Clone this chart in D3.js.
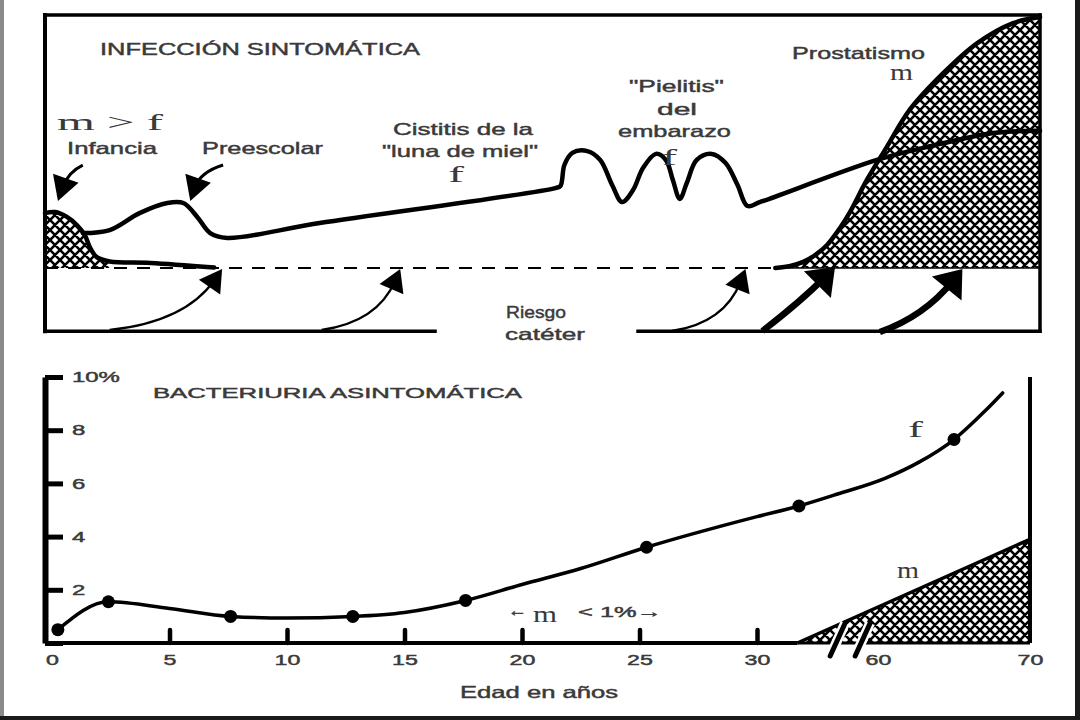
<!DOCTYPE html>
<html><head><meta charset="utf-8">
<script src="https://cdn.jsdelivr.net/npm/d3@7"></script>
<style>body{margin:0;background:#fff}svg{display:block}</style>
</head><body>
<svg id="c" width="1080" height="720"></svg>
<script>
// ================= DATA =================
// Top panel (schematic): [position 0-100 along the age span, level 0-100 above dashed baseline]
const sintomaticaF = [[3.8,13.8],[6.5,15.0],[9.5,21.7],[12.3,25.7],[13.9,25.7],[15.3,20.2],[16.6,13.8],[18.3,11.9],
  [27.6,17.8],[51.3,31.6],[51.8,32.4],[52.2,40.7],[53.0,45.5],[54.5,46.2],[55.8,42.7],[57.0,32.8],[58.0,26.1],
  [59.1,30.8],[60.1,39.5],[61.4,45.1],[62.4,42.7],[63.1,34.8],[63.8,27.3],[64.5,33.6],[65.5,42.7],[67.0,45.1],
  [68.4,41.5],[69.6,32.8],[70.6,24.5],[71.9,26.1],[83.6,42.7],[88.6,47.8],[95.3,53.4],[100,54.2]];
const prostatismoM = [[73.4,0],[74.9,0.8],[76.2,2.4],[77.4,5.1],[78.6,9.1],[79.9,15.8],[80.9,22.1],[82.6,34.8],
  [84.6,47.8],[86.9,62.5],[90.3,77.1],[93.7,88.9],[97.3,96.8],[100,99.2]];
const infanciaM = [[0,21.7],[1.0,22.1],[2.2,20.2],[3.2,17.0],[4.0,13.0],[4.5,8.3],[5.2,4.3],[6.5,2.6],[10.6,2.0],[17.0,0.2]];
const cateterArrows = [
  {from:[6.5,-24.5], via:[14.1,-21.3], to:[17.8,-0.4], heavy:false},
  {from:[27.8,-24.5], via:[33.4,-21.3], to:[35.7,-0.4], heavy:false},
  {from:[63.0,-24.9], via:[68.3,-21.7], to:[70.4,-0.4], heavy:false},
  {from:[72.1,-24.9], via:[75.9,-13.4], to:[79.4,0.4], heavy:true},
  {from:[83.9,-25.3], via:[88.4,-19.0], to:[92.2,-0.4], heavy:true}];
const pointerArrows = [
  {from:[3.8,40.7], via:[2.3,37.9], to:[1.3,26.5]},
  {from:[17.9,40.7], via:[15.6,37.9], to:[14.6,26.5]}];
const frameBottomSegments = [[0,39.2],[59.6,100]];

// Bottom panel: age (years) vs asymptomatic bacteriuria (%)
const xTickValues = [0,5,10,15,20,25,30,60,70];
const xTickMarks = [5,10,15,20,25,30];
const yTickValues = [0,2,4,6,8,10];
const bacteriuriaF = [[0.25,0.5],[2.4,1.55],[5,1.3],[7.6,1.0],[10,0.94],[12.8,1.0],[15,1.15],[17.6,1.6],
  [20,2.2],[22.5,2.8],[25.3,3.6],[30,4.75],[40.4,5.15],[50,5.6],[60.5,6.2],[62.7,6.8],[65,7.65],[67,8.7],[68.2,9.4]];
const bacteriuriaFDots = [[0.25,0.5],[2.4,1.55],[7.6,1.0],[12.8,1.0],[17.6,1.6],[25.3,3.6],[40.4,5.15],[65,7.65]];
const bacteriuriaM = [[40,0],[70,3.9]];
const axisBreakAges = [50,56.2];

// ================= LAYOUT =================
const svg = d3.select('#c');
const SANS = 'Liberation Sans, Arial, sans-serif', SERIF = 'Liberation Serif, Times New Roman, serif';
const TXT = '#3a3a3a';
const xT = d3.scaleLinear().domain([0,100]).range([45,1040]);
const yT = d3.scaleLinear().domain([0,100]).range([268,15]);
const xB = d3.scaleLinear().domain([0,30,60,70]).range([52,757,878,1030]);
const yB = d3.scaleLinear().domain([0,10]).range([643,377]);
const AX_LEFT = 45;

// outer border
svg.append('rect').attr('x',0).attr('y',0).attr('width',4).attr('height',720).attr('fill','#8a8a8a');
svg.append('rect').attr('x',1075).attr('y',0).attr('width',5).attr('height',720).attr('fill','#1a1a1a');
svg.append('rect').attr('x',0).attr('y',716).attr('width',1080).attr('height',4).attr('fill','#1a1a1a');

// hatch pattern
const defs = svg.append('defs');
const S = 10;
const pat = defs.append('pattern').attr('id','hatch').attr('patternUnits','userSpaceOnUse').attr('width',S).attr('height',S);
pat.append('rect').attr('width',S).attr('height',S).attr('fill','#fff');
pat.append('path').attr('d',`M-1,1L1,-1M0,${S}L${S},0M${S-1},${S+1}L${S+1},${S-1}M-1,${S-1}L1,${S+1}M0,0L${S},${S}M${S-1},-1L${S+1},1`)
  .attr('stroke','#000').attr('stroke-width',2.6);

// ---------- TOP PANEL ----------
const topG = svg.append('g');
const cr = d3.curveCatmullRom.alpha(0.5);
const lineT = d3.line().x(d=>xT(d[0])).y(d=>yT(d[1])).curve(cr);
const areaT = d3.area().x(d=>xT(d[0])).y0(yT(0)).y1(d=>yT(d[1])).curve(cr);

topG.append('path').attr('d',areaT(prostatismoM)).attr('fill','url(#hatch)');
topG.append('path').attr('d',areaT(infanciaM.slice(0,8))).attr('fill','url(#hatch)');

// frame
const fr = topG.append('g').attr('stroke','#000').attr('stroke-linecap','square');
fr.append('line').attr('x1',xT(0)).attr('x2',xT(100)).attr('y1',yT(100)).attr('y2',yT(100)).attr('stroke-width',3.5);
fr.append('line').attr('x1',xT(0)).attr('x2',xT(0)).attr('y1',yT(100)).attr('y2',yT(-25)).attr('stroke-width',4);
fr.append('line').attr('x1',xT(100)).attr('x2',xT(100)).attr('y1',yT(100)).attr('y2',yT(-25)).attr('stroke-width',3.5);
frameBottomSegments.forEach(s=>fr.append('line').attr('x1',xT(s[0])).attr('x2',xT(s[1]))
  .attr('y1',yT(-25)).attr('y2',yT(-25)).attr('stroke-width',3.5));

// dashed baseline
topG.append('line').attr('x1',xT(0)).attr('x2',xT(prostatismoM[0][0])).attr('y1',yT(0)).attr('y2',yT(0))
  .attr('stroke','#000').attr('stroke-width',2.2).attr('stroke-dasharray','13,10');
// hatch bottom edge
topG.append('line').attr('x1',xT(prostatismoM[0][0])).attr('x2',xT(100)).attr('y1',yT(0)).attr('y2',yT(0))
  .attr('stroke','#000').attr('stroke-width',1.5);

topG.append('path').attr('d',lineT(infanciaM)).attr('fill','none').attr('stroke','#000').attr('stroke-width',4.5).attr('stroke-linecap','round');
topG.append('path').attr('d',lineT(prostatismoM)).attr('fill','none').attr('stroke','#000').attr('stroke-width',4.5).attr('stroke-linecap','round');
topG.append('path').attr('d',lineT(sintomaticaF)).attr('fill','none').attr('stroke','#000').attr('stroke-width',4.5)
  .attr('stroke-linecap','round').attr('stroke-linejoin','round');

function arrow(g, a, L, Wd, sw){
  const P0=[xT(a.from[0]),yT(a.from[1])], C=[xT(a.via[0]),yT(a.via[1])], P2=[xT(a.to[0]),yT(a.to[1])];
  const dx=P2[0]-C[0], dy=P2[1]-C[1], len=Math.hypot(dx,dy), ux=dx/len, uy=dy/len, px=-uy, py=ux;
  const E=[P2[0]-ux*L*0.6, P2[1]-uy*L*0.6];
  const p=d3.path(); p.moveTo(P0[0],P0[1]); p.quadraticCurveTo(C[0],C[1],E[0],E[1]);
  g.append('path').attr('d',p.toString()).attr('fill','none').attr('stroke','#000').attr('stroke-width',sw);
  const b=[P2[0]-ux*L, P2[1]-uy*L];
  const h=d3.path(); h.moveTo(P2[0],P2[1]); h.lineTo(b[0]+px*Wd/2,b[1]+py*Wd/2); h.lineTo(b[0]-px*Wd/2,b[1]-py*Wd/2); h.closePath();
  g.append('path').attr('d',h.toString()).attr('fill','#000');
}
cateterArrows.forEach(a=> a.heavy ? arrow(topG,a,25,38,6.5) : arrow(topG,a,22,26,2.4));
pointerArrows.forEach(a=> arrow(topG,a,24,27,3));

// ---------- BOTTOM PANEL ----------
const bot = svg.append('g');
const lineB = d3.line().x(d=>xB(d[0])).y(d=>yB(d[1]));
const fLine = d3.line().x(d=>xB(d[0])).y(d=>yB(d[1])).curve(d3.curveMonotoneX);

// m triangle
const mArea = d3.area().x(d=>xB(d[0])).y0(yB(0)).y1(d=>yB(d[1]));
bot.append('path').attr('d',mArea(bacteriuriaM)).attr('fill','url(#hatch)');

// x baseline
bot.append('line').attr('x1',AX_LEFT).attr('x2',xB(bacteriuriaM[0][0])).attr('y1',yB(0)).attr('y2',yB(0))
  .attr('stroke','#000').attr('stroke-width',4);
bot.append('line').attr('x1',xB(bacteriuriaM[0][0])).attr('x2',xB(70)).attr('y1',yB(0)).attr('y2',yB(0))
  .attr('stroke','#000').attr('stroke-width',3);
bot.append('path').attr('d',lineB(bacteriuriaM)).attr('fill','none').attr('stroke','#000').attr('stroke-width',3.5);
// right axis
bot.append('line').attr('x1',xB(70)).attr('x2',xB(70)).attr('y1',yB(10)).attr('y2',yB(0))
  .attr('stroke','#000').attr('stroke-width',4);

// axis break marks
axisBreakAges.forEach(a=>{
  const cx=xB(a), cy=yB(0);
  bot.append('line').attr('x1',cx-7.5).attr('y1',cy+13).attr('x2',cx+7.5).attr('y2',cy-20)
    .attr('stroke','#fff').attr('stroke-width',10);
});
axisBreakAges.forEach(a=>{
  const cx=xB(a), cy=yB(0);
  bot.append('line').attr('x1',cx-7.5).attr('y1',cy+13).attr('x2',cx+7.5).attr('y2',cy-20)
    .attr('stroke','#000').attr('stroke-width',5).attr('stroke-linecap','round');
});

// x tick marks (upward bumps)
const xt = bot.append('g').attr('transform',`translate(0,${yB(0)})`)
  .call(d3.axisBottom(xB).tickValues(xTickMarks).tickSize(-13).tickFormat(''));
xt.select('.domain').remove();
xt.selectAll('line').attr('stroke','#000').attr('stroke-width',4.5).attr('stroke-linecap','round');

function stretch(sel,k){ sel.each(function(){ const n=this.getComputedTextLength();
  d3.select(this).attr('textLength',n*k).attr('lengthAdjust','spacingAndGlyphs'); }); }
function ink(sel){ sel.attr('fill',TXT).attr('stroke',d=> d && d.serif ? 'none' : TXT).attr('stroke-width',0.45); }

// x labels
const xl = bot.append('g').attr('transform',`translate(0,${yB(0)})`)
  .call(d3.axisBottom(xB).tickValues(xTickValues).tickSize(0).tickPadding(12).tickFormat(d3.format('d')));
xl.select('.domain').remove();
xl.selectAll('text').attr('font-family',SANS).attr('font-size',14.5).call(ink);
stretch(xl.selectAll('text'),1.6);

// y axis
const ya = bot.append('g').attr('transform',`translate(${AX_LEFT},0)`)
  .call(d3.axisRight(yB).tickValues(yTickValues).tickSize(18).tickSizeOuter(0).tickPadding(9)
    .tickFormat(d=> d===0 ? '' : (d===10 ? d+'%' : d)));
ya.select('.domain').attr('stroke','#000').attr('stroke-width',6);
ya.selectAll('.tick line').attr('stroke','#000').attr('stroke-width',5);
ya.selectAll('text').attr('font-family',SANS).attr('font-size',14.5).call(ink);
stretch(ya.selectAll('text'),1.65);

// f curve + dots
bot.append('path').attr('d',fLine(bacteriuriaF)).attr('fill','none').attr('stroke','#000').attr('stroke-width',3.5).attr('stroke-linecap','round');
bot.selectAll('circle.dot').data(bacteriuriaFDots).enter().append('circle')
  .attr('cx',d=>xB(d[0])).attr('cy',d=>yB(d[1])).attr('r',6.5).attr('fill','#000');

// ---------- TEXT ----------
const labels = [
  {t:'INFECCIÓN SINTOMÁTICA', x:100, y:55, w:320, s:17},
  {t:'m > f', x:57, y:130, w:106, s:24, serif:true},
  {t:'Infancia', x:67, y:154, w:90, s:17},
  {t:'Preescolar', x:202, y:154, w:121, s:17},
  {t:'Cistitis de la', x:393, y:135, w:140, s:17},
  {t:'"luna de miel"', x:382, y:157, w:156, s:17},
  {t:'f', x:448, y:182, w:16, s:24, serif:true},
  {t:'"Pielitis"', x:629, y:92, w:95, s:17},
  {t:'del', x:657, y:115, w:40, s:17},
  {t:'embarazo', x:618, y:137, w:113, s:17},
  {t:'f', x:662, y:165, w:15, s:24, serif:true},
  {t:'Prostatismo', x:792, y:59, w:133, s:17},
  {t:'m', x:890, y:80, w:23, s:23, serif:true},
  {t:'Riesgo', x:506, y:318, w:60, s:17},
  {t:'catéter', x:505, y:340, w:80, s:17},
  {t:'BACTERIURIA ASINTOMÁTICA', x:153, y:398, w:369, s:14.5},
  {t:'←', x:508, y:616, w:19, s:16},
  {t:'m', x:533, y:622, w:24, s:23, serif:true},
  {t:'< 1%→', x:578, y:617, w:84, s:15},
  {t:'f', x:908, y:437, w:15, s:24, serif:true},
  {t:'m', x:897, y:578, w:22, s:23, serif:true},
  {t:'Edad en años', x:460, y:698, w:158, s:16.5}
];
svg.append('g').selectAll('text').data(labels).enter().append('text')
  .attr('x',d=>d.x).attr('y',d=>d.y).attr('font-family',d=>d.serif?SERIF:SANS).attr('font-size',d=>d.s)
  .attr('textLength',d=>d.w).attr('lengthAdjust','spacingAndGlyphs').text(d=>d.t).call(ink);
</script>
</body></html>
